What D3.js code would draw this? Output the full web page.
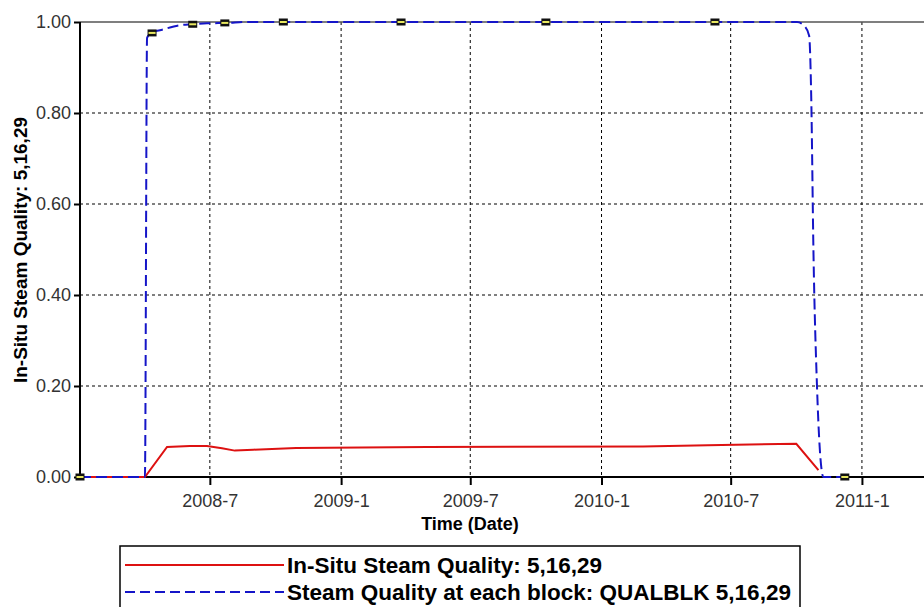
<!DOCTYPE html>
<html>
<head>
<meta charset="utf-8">
<script src="https://cdn.jsdelivr.net/npm/d3@7"></script>
<style>
  body { margin: 0; background: #fff; }
  svg { font-family: "Liberation Sans", Arial, sans-serif; }
</style>
</head>
<body>
<div class="chart"></div>
<script>
// red: in-situ steam quality
const redDates = ['2008-01-01','2008-04-01','2008-05-02','2008-06-03','2008-06-27','2008-07-18','2008-08-05',
  '2008-08-31','2008-10-30','2009-05-01','2010-02-28','2010-05-30','2010-10-01','2010-11-01']
const redValues = [0, 0, 0.066, 0.068, 0.068, 0.063, 0.058, 0.060, 0.064, 0.066, 0.067, 0.070, 0.073, 0.015]

// blue: QUALBLK
const blueDates = ['2008-01-01','2008-04-01','2008-04-04','2008-04-11','2008-04-22','2008-05-20','2008-06-07',
  '2008-06-27','2008-07-25','2008-08-22','2010-10-02','2010-10-13','2010-10-19','2010-10-22','2010-10-25',
  '2010-10-30','2010-11-03','2010-11-08','2010-12-08']
const blueValues = [0, 0, 0.965, 0.978, 0.982, 0.993, 0.995, 0.997, 0.998, 1.0, 1.0, 0.99, 0.97, 0.83, 0.50,
  0.20, 0.06, 0, 0]

// small square markers
const markDates = ['2008-01-01','2008-04-11','2008-06-07','2008-07-22','2008-10-12','2009-03-26','2009-10-15',
  '2010-06-09','2010-12-08']
const markValues = [0, 0.976, 0.995, 0.998, 1.0, 1.0, 1.0, 1.0, 0]

const xTicks = ['2008-07-01','2009-01-01','2009-07-01','2010-01-01','2010-07-01','2011-01-01']
const yTicks = [0, 0.2, 0.4, 0.6, 0.8, 1.0]

const parse = d3.timeParse('%Y-%m-%d')
const width = 924
const height = 607
const plotL = 80, plotR = 924, plotT = 22, plotB = 477

const x = d3.scaleTime()
  .domain([parse('2008-01-01'), parse('2011-03-29')])
  .range([plotL, plotR])
const y = d3.scaleLinear().domain([0, 1]).range([plotB, plotT])

const svg = d3.select('.chart')
  .append('svg')
  .attr('width', width)
  .attr('height', height)

// grid
svg.append('g')
  .selectAll('line')
  .data(yTicks.filter(d => d > 0 && d < 1))
  .enter()
  .append('line')
  .attr('x1', plotL).attr('x2', plotR)
  .attr('y1', d => y(d)).attr('y2', d => y(d))
  .attr('stroke', '#000')
  .attr('stroke-dasharray', '3,3')
svg.append('g')
  .selectAll('line')
  .data(xTicks)
  .enter()
  .append('line')
  .attr('x1', d => x(parse(d))).attr('x2', d => x(parse(d)))
  .attr('y1', plotT).attr('y2', plotB)
  .attr('stroke', '#000')
  .attr('stroke-dasharray', '3,3')

// top frame
svg.append('line')
  .attr('x1', plotL).attr('x2', plotR)
  .attr('y1', plotT).attr('y2', plotT)
  .attr('stroke', '#555')
  .attr('stroke-width', 1.5)

// axes
const xAxis = svg.append('g')
  .attr('transform', `translate(0,${plotB})`)
  .call(d3.axisBottom(x)
    .tickValues(xTicks.map(parse))
    .tickFormat(d3.timeFormat('%Y-%-m'))
    .tickSize(8)
    .tickPadding(9))
xAxis.selectAll('.tick line').attr('stroke-width', 2)

const yAxis = svg.append('g')
  .attr('transform', `translate(${plotL},0)`)
  .call(d3.axisLeft(y)
    .tickValues(yTicks)
    .tickFormat(d3.format('.2f'))
    .tickSize(6)
    .tickPadding(3))
yAxis.selectAll('.tick line').attr('stroke-width', 2)

svg.selectAll('.tick text')
  .attr('font-size', 18)
  .attr('font-family', '"Liberation Sans", Arial, sans-serif')
  .attr('fill', '#333')
svg.selectAll('.domain').remove()
svg.append('line')
  .attr('x1', plotL).attr('x2', plotR)
  .attr('y1', plotB).attr('y2', plotB)
  .attr('stroke', '#000').attr('stroke-width', 2)
svg.append('line')
  .attr('x1', plotL).attr('x2', plotL)
  .attr('y1', plotT).attr('y2', plotB)
  .attr('stroke', '#000').attr('stroke-width', 2)

// series
const line = d3.line()
  .x(d => x(d[0]))
  .y(d => y(d[1]))

const redData = redDates.map((d, i) => [parse(d), redValues[i]])
const blueData = blueDates.map((d, i) => [parse(d), blueValues[i]])

svg.append('path')
  .datum(redData)
  .attr('d', line)
  .attr('fill', 'none')
  .attr('stroke', '#dd1111')
  .attr('stroke-width', 2)

svg.append('path')
  .datum(blueData)
  .attr('d', line.curve(d3.curveMonotoneX))
  .attr('fill', 'none')
  .attr('stroke', '#1515c8')
  .attr('stroke-width', 2)
  .attr('stroke-dasharray', '11,5')

// markers
const marks = svg.append('g')
  .selectAll('g')
  .data(markDates.map((d, i) => [parse(d), markValues[i]]))
  .enter()
  .append('g')
  .attr('transform', d => `translate(${x(d[0])},${y(d[1])})`)
marks.append('rect')
  .attr('x', -4.5).attr('y', -3.5)
  .attr('width', 9).attr('height', 7)
  .attr('fill', '#111')
marks.append('rect')
  .attr('x', -3.5).attr('y', -1)
  .attr('width', 7).attr('height', 2)
  .attr('fill', '#e8e860')

// titles
svg.append('text')
  .attr('x', 470)
  .attr('y', 530)
  .attr('text-anchor', 'middle')
  .attr('font-size', 18)
  .attr('font-weight', 'bold')
  .text('Time (Date)')

svg.append('text')
  .attr('transform', 'translate(27,250) rotate(-90)')
  .attr('text-anchor', 'middle')
  .attr('font-size', 19)
  .attr('font-weight', 'bold')
  .text('In-Situ Steam Quality: 5,16,29')

// legend
const legendItems = ['In-Situ Steam Quality: 5,16,29', 'Steam Quality at each block: QUALBLK 5,16,29']
const legendColors = ['#dd1111', '#1515c8']
const legendDash = [null, '10,5']

const legend = svg.append('g')
legend.append('rect')
  .attr('x', 120).attr('y', 546)
  .attr('width', 680).attr('height', 80)
  .attr('fill', '#fff')
  .attr('stroke', '#000')
  .attr('stroke-width', 1.5)
legendItems.forEach((t, i) => {
  const ly = 565 + i * 27
  legend.append('line')
    .attr('x1', 125).attr('x2', 284)
    .attr('y1', ly).attr('y2', ly)
    .attr('stroke', legendColors[i])
    .attr('stroke-width', 2)
    .attr('stroke-dasharray', legendDash[i])
  legend.append('text')
    .attr('x', 287)
    .attr('y', ly + 8)
    .attr('font-size', 22.5)
    .attr('font-weight', 'bold')
    .text(t)
})
</script>
</body>
</html>
